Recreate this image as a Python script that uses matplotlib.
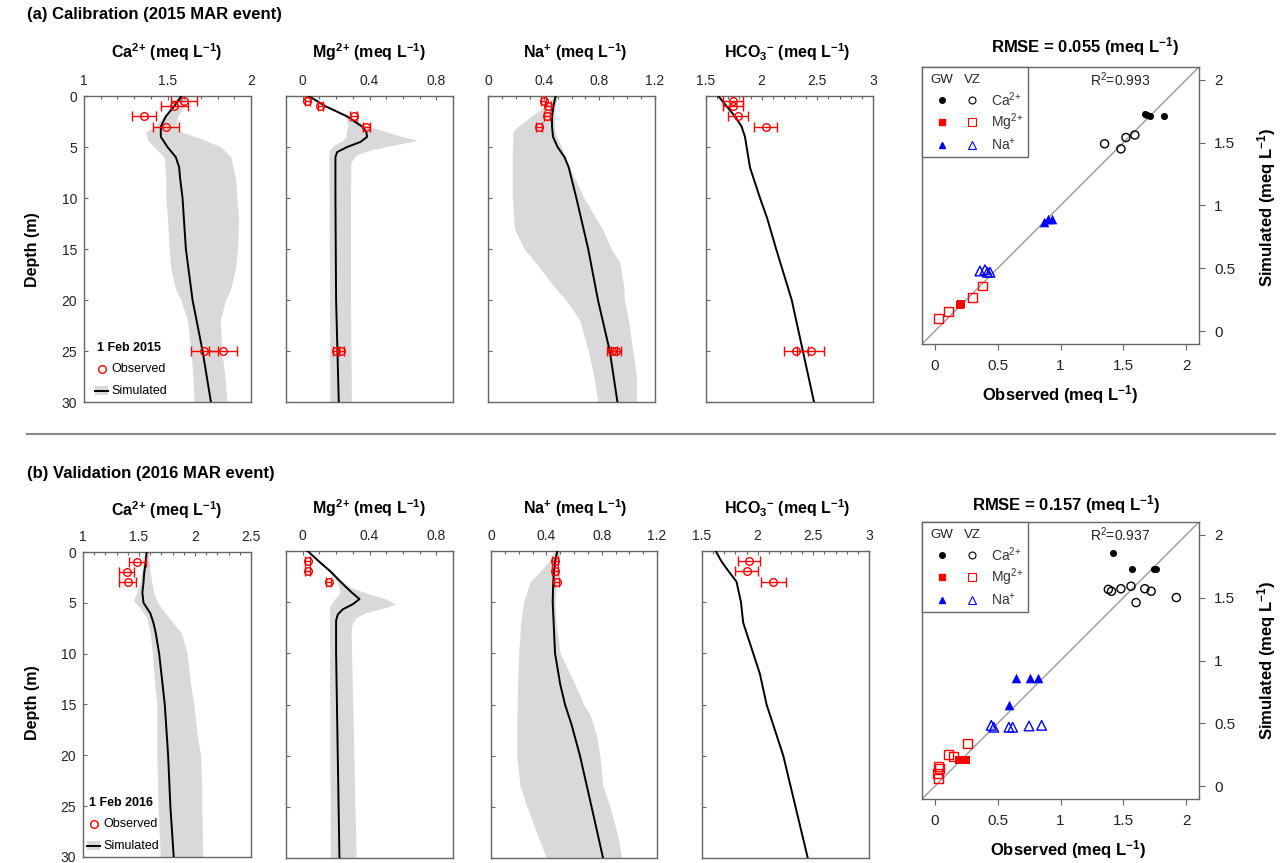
import matplotlib
matplotlib.use('Agg')
import matplotlib.pyplot as plt
from matplotlib.transforms import Affine2D
from matplotlib.lines import Line2D
from matplotlib.patches import Rectangle
from matplotlib.ticker import MultipleLocator

plt.rcParams['font.family'] = ['Liberation Sans', 'DejaVu Sans']
plt.rcParams['mathtext.default'] = 'regular'

# ---------------- data: (a) calibration 2015 ----------------
obs_depth_a = [0.5, 1, 2, 3, 25, 25]

ca_sim_d_a = [0, 1, 2, 3, 4, 5, 6, 7, 8, 10, 15, 20, 25, 30]
ca_sim_a = [1.584, 1.54, 1.49, 1.46, 1.46, 1.50, 1.55, 1.57, 1.575, 1.59, 1.61, 1.65, 1.71, 1.76]
ca_band_d_a = [0, 1, 2, 3, 3.5, 4.3, 5, 6, 8, 10, 12, 15, 17, 19, 20, 22, 25, 27, 30]
ca_lo_a = [1.56, 1.52, 1.48, 1.42, 1.37, 1.38, 1.42, 1.48, 1.49, 1.49, 1.50, 1.51, 1.52, 1.55, 1.58, 1.62, 1.64, 1.65, 1.66]
ca_hi_a = [1.62, 1.60, 1.56, 1.55, 1.58, 1.72, 1.82, 1.88, 1.906, 1.916, 1.926, 1.92, 1.906, 1.876, 1.847, 1.816, 1.826, 1.84, 1.857]
ca_obs_a = [1.598, 1.54, 1.36, 1.49, 1.72, 1.83]
ca_err_a = [0.08, 0.08, 0.07, 0.077, 0.08, 0.084]

mg_sim_d_a = [0, 1, 2, 3, 3.5, 4, 4.5, 5, 5.5, 6, 10, 20, 30]
mg_sim_a = [0.036, 0.136, 0.266, 0.356, 0.38, 0.386, 0.346, 0.266, 0.206, 0.196, 0.196, 0.20, 0.216]
mg_band_d_a = [0, 1, 2, 2.7, 3, 3.5, 4, 4.35, 4.8, 5.3, 5.8, 6.5, 10, 20, 30]
mg_lo_a = [0.026, 0.126, 0.25, 0.27, 0.27, 0.26, 0.26, 0.24, 0.19, 0.16, 0.156, 0.156, 0.158, 0.16, 0.162]
mg_hi_a = [0.046, 0.146, 0.28, 0.36, 0.40, 0.50, 0.60, 0.686, 0.55, 0.40, 0.32, 0.288, 0.286, 0.286, 0.292]
mg_obs_a = [0.026, 0.106, 0.306, 0.38, 0.20, 0.23]
mg_err_a = [0.015, 0.015, 0.02, 0.02, 0.02, 0.02]

na_sim_d_a = [0, 1, 2, 3, 4, 5, 6, 7, 10, 15, 20, 25, 30]
na_sim_a = [0.486, 0.47, 0.46, 0.46, 0.467, 0.50, 0.55, 0.58, 0.635, 0.72, 0.79, 0.875, 0.93]
na_band_d_a = [0, 1, 2, 3, 3.5, 5, 7, 10, 13, 15, 16.3, 18.6, 20, 22, 25, 27.4, 30]
na_lo_a = [0.47, 0.41, 0.31, 0.215, 0.18, 0.175, 0.175, 0.175, 0.19, 0.26, 0.34, 0.47, 0.56, 0.66, 0.72, 0.76, 0.79]
na_hi_a = [0.50, 0.485, 0.48, 0.48, 0.48, 0.527, 0.587, 0.69, 0.82, 0.886, 0.946, 0.975, 0.98, 1.01, 1.04, 1.066, 1.066]
na_obs_a = [0.40, 0.43, 0.424, 0.366, 0.893, 0.92]
na_err_a = [0.02, 0.02, 0.02, 0.02, 0.035, 0.035]

hco3_sim_d_a = [0, 1, 2, 3, 4, 5, 6, 7, 8, 10, 12, 15, 20, 25, 30]
hco3_sim_a = [1.61, 1.685, 1.76, 1.82, 1.85, 1.865, 1.88, 1.895, 1.925, 1.985, 2.05, 2.13, 2.27, 2.37, 2.47]
hco3_obs_a = [1.745, 1.745, 1.79, 2.035, 2.31, 2.44]
hco3_err_a = [0.09, 0.09, 0.09, 0.10, 0.105, 0.12]

# ---------------- data: (b) validation 2016 ----------------
obs_depth_b = [1, 2, 3]

ca_sim_d_b = [0, 1, 2, 3, 4, 5, 6, 7, 8, 10, 15, 20, 25, 30]
ca_sim_b = [1.568, 1.56, 1.547, 1.54, 1.53, 1.54, 1.60, 1.63, 1.65, 1.68, 1.73, 1.76, 1.78, 1.81]
ca_band_d_b = [0, 2, 3, 4, 4.8, 5.5, 6.5, 8, 10, 13, 15, 18, 20, 23, 25, 30]
ca_lo_b = [1.55, 1.52, 1.51, 1.48, 1.45, 1.51, 1.57, 1.60, 1.62, 1.64, 1.66, 1.66, 1.66, 1.665, 1.67, 1.69]
ca_hi_b = [1.585, 1.60, 1.615, 1.63, 1.66, 1.70, 1.77, 1.88, 1.93, 1.96, 1.99, 2.02, 2.05, 2.06, 2.06, 2.07]
ca_obs_b = [1.484, 1.39, 1.40]
ca_err_b = [0.075, 0.066, 0.075]

mg_sim_d_b = [0, 1, 2, 3, 4, 4.7, 5.2, 5.7, 6.2, 6.8, 10, 30]
mg_sim_b = [0.03, 0.096, 0.166, 0.226, 0.29, 0.34, 0.30, 0.24, 0.21, 0.20, 0.20, 0.22]
mg_band_d_b = [0, 1, 2, 3, 3.6, 4.2, 4.7, 5.2, 5.6, 6.0, 6.5, 7.1, 8, 30]
mg_lo_b = [0.026, 0.09, 0.16, 0.205, 0.22, 0.22, 0.19, 0.17, 0.16, 0.16, 0.16, 0.16, 0.16, 0.165]
mg_hi_b = [0.036, 0.105, 0.18, 0.24, 0.29, 0.40, 0.50, 0.556, 0.48, 0.38, 0.32, 0.296, 0.29, 0.32]
mg_obs_b = [0.03, 0.03, 0.156]
mg_err_b = [0.015, 0.015, 0.015]

na_sim_d_b = [0, 1, 3, 5, 10, 13, 15, 17, 20, 25, 30]
na_sim_b = [0.48, 0.463, 0.45, 0.446, 0.463, 0.50, 0.535, 0.583, 0.643, 0.727, 0.81]
na_band_d_b = [0, 1, 2, 3, 4, 5, 7, 10, 12, 14, 15, 16, 18, 20, 23, 25, 28, 30]
na_lo_b = [0.463, 0.415, 0.355, 0.283, 0.26, 0.235, 0.215, 0.2, 0.195, 0.19, 0.19, 0.188, 0.187, 0.187, 0.21, 0.26, 0.343, 0.40]
na_hi_b = [0.50, 0.49, 0.48, 0.475, 0.47, 0.465, 0.47, 0.50, 0.57, 0.64, 0.67, 0.715, 0.763, 0.787, 0.81, 0.86, 0.92, 0.943]
na_obs_b = [0.463, 0.463, 0.475]
na_err_b = [0.02, 0.02, 0.02]

hco3_sim_d_b = [0, 1, 2, 3, 4, 5, 7, 10, 12, 15, 20, 25, 30]
hco3_sim_b = [1.623, 1.674, 1.74, 1.81, 1.83, 1.85, 1.87, 1.96, 2.02, 2.08, 2.23, 2.34, 2.45]
hco3_obs_b = [1.92, 1.90, 2.14]
hco3_err_b = [0.10, 0.10, 0.11]

# ---------------- scatter data (observed, simulated) ----------------
gw_ca_a = ([1.67, 1.69, 1.71, 1.82], [1.73, 1.72, 1.71, 1.71])
vz_ca_a = ([1.35, 1.48, 1.52, 1.59], [1.49, 1.45, 1.54, 1.56])
gw_mg_a = ([0.20, 0.21], [0.21, 0.22])
vz_mg_a = ([0.03, 0.11, 0.30, 0.38], [0.10, 0.16, 0.27, 0.36])
gw_na_a = ([0.87, 0.90, 0.93], [0.87, 0.89, 0.89])
vz_na_a = ([0.36, 0.40, 0.42, 0.44], [0.48, 0.49, 0.47, 0.47])

gw_ca_b = ([1.42, 1.57, 1.74, 1.76], [1.85, 1.73, 1.73, 1.73])
vz_ca_b = ([1.38, 1.405, 1.48, 1.56, 1.60, 1.67, 1.72, 1.92], [1.565, 1.55, 1.57, 1.59, 1.46, 1.57, 1.55, 1.50])
gw_mg_b = ([0.19, 0.22, 0.25], [0.21, 0.21, 0.21])
vz_mg_b = ([0.02, 0.03, 0.03, 0.04, 0.11, 0.15, 0.26], [0.10, 0.16, 0.06, 0.14, 0.255, 0.235, 0.34])
gw_na_b = ([0.65, 0.76, 0.82, 0.59], [0.86, 0.86, 0.86, 0.65])
vz_na_b = ([0.45, 0.47, 0.59, 0.62, 0.75, 0.85], [0.485, 0.47, 0.47, 0.47, 0.48, 0.485])

W, H = 1281, 863
fig = plt.figure(figsize=(W / 100, H / 100), dpi=100)
pix = Affine2D().scale(1.0 / W, -1.0 / H).translate(0, 1) + fig.transFigure

FRAME = '#666666'
BAND = '#d9d9d9'


def rect(l, t, r, b):
    return [l / W, 1 - b / H, (r - l) / W, (b - t) / H]


def profile(box, xlim, xticks, title, tpos, sim_d, sim_v, obs_d, obs_v, obs_e,
            band=None, ylabels=False):
    ax = fig.add_axes(rect(*box))
    if band is not None:
        ax.fill_betweenx(band[0], band[1], band[2], color=BAND, lw=0, zorder=1)
    ax.plot(sim_v, sim_d, color='black', lw=1.4, zorder=3)
    ax.errorbar(obs_v, obs_d, xerr=obs_e, fmt='o', mfc='none', mec='red',
                ecolor='red', ms=5.5, mew=1, elinewidth=1, capsize=3.5,
                capthick=1, zorder=4)
    ax.set_xlim(xlim)
    ax.set_ylim(30, 0)
    ax.xaxis.tick_top()
    ax.set_xticks(xticks)
    ax.set_xticklabels(['%g' % t for t in xticks])
    ax.xaxis.set_minor_locator(MultipleLocator(0.1))
    ax.set_yticks(range(0, 31, 5))
    ax.tick_params(direction='in', length=3, width=0.8, colors=FRAME,
                   labelcolor='#222222', labelsize=10)
    ax.tick_params(axis='x', pad=6)
    ax.tick_params(axis='y', pad=5, labelleft=ylabels)
    ax.tick_params(which='minor', direction='in', length=2.5, width=0.8, colors=FRAME)
    for s in ax.spines.values():
        s.set_color(FRAME)
        s.set_linewidth(1)
    fig.text(tpos[0], tpos[1], title, transform=pix, ha='center', va='center',
             fontsize=11.5, fontweight='bold')
    return ax


def profile_legend(date, x0, y0):
    fig.text(x0, y0, date, transform=pix, ha='left', va='center', fontsize=9,
             fontweight='bold')
    fig.add_artist(Line2D([x0 + 5], [y0 + 21], transform=pix, marker='o',
                          ms=5.5, mfc='none', mec='red', mew=1, ls='none'))
    fig.text(x0 + 14, y0 + 21, 'Observed', transform=pix, ha='left',
             va='center', fontsize=9)
    fig.add_artist(Rectangle((x0 - 2, y0 + 38), 13, 9, transform=pix,
                             color=BAND, lw=0))
    fig.add_artist(Line2D([x0 - 2, x0 + 11], [y0 + 42.5, y0 + 42.5],
                          transform=pix, color='black', lw=1.4))
    fig.text(x0 + 14, y0 + 43, 'Simulated', transform=pix, ha='left',
             va='center', fontsize=9)


def scatter_panel(box, title, tpos, r2, obspos, simpos, gw, vz):
    ax = fig.add_axes(rect(*box))
    ax.plot([-0.1, 2.1], [-0.1, 2.1], color='#999999', lw=1, zorder=1)
    ax.scatter(*gw[0], s=26, c='black', marker='o', zorder=3, lw=0)
    ax.scatter(*vz[0], s=34, facecolors='none', edgecolors='black', lw=1, zorder=3)
    ax.scatter(*gw[1], s=40, c='red', marker='s', zorder=3, lw=0)
    ax.scatter(*vz[1], s=40, facecolors='none', edgecolors='red', marker='s', lw=1, zorder=3)
    ax.scatter(*gw[2], s=48, c='blue', marker='^', zorder=3, lw=0)
    ax.scatter(*vz[2], s=48, facecolors='none', edgecolors='blue', marker='^', lw=1, zorder=3)
    ax.set_xlim(-0.1, 2.1)
    ax.set_ylim(-0.1, 2.1)
    ticks = [0, 0.5, 1, 1.5, 2]
    ax.set_xticks(ticks)
    ax.set_xticklabels(['%g' % t for t in ticks])
    ax.set_yticks(ticks)
    ax.set_yticklabels(['%g' % t for t in ticks])
    ax.yaxis.tick_right()
    ax.tick_params(direction='out', length=4, width=0.8, colors=FRAME,
                   labelcolor='#222222', labelsize=11, pad=7)
    for s in ax.spines.values():
        s.set_color(FRAME)
        s.set_linewidth(1)
    ax.text(1.47, 2.0, r2, ha='center', va='center', fontsize=10, color='#222222')
    fig.text(tpos[0], tpos[1], title, transform=pix, ha='center', va='center',
             fontsize=12, fontweight='bold')
    fig.text(obspos[0], obspos[1], 'Observed (meq L$^{-1}$)', transform=pix,
             ha='center', va='center', fontsize=12, fontweight='bold')
    fig.text(simpos[0], simpos[1], 'Simulated (meq L$^{-1}$)', transform=pix,
             ha='center', va='center', fontsize=12, fontweight='bold', rotation=90)

    # legend box
    l, t = box[0], box[1]
    fig.add_artist(Rectangle((l, t), 106, 90, transform=pix, facecolor='white',
                             edgecolor=FRAME, lw=1))
    fig.text(l + 20, t + 13, 'GW', transform=pix, ha='center', va='center',
             fontsize=9.5, color='#222222')
    fig.text(l + 50, t + 13, 'VZ', transform=pix, ha='center', va='center',
             fontsize=9.5, color='#222222')
    rows = [('o', 'black', 'Ca$^{2}$$^{+}$', 33, 4, 5),
            ('s', 'red', 'Mg$^{2}$$^{+}$', 55, 5, 5.5),
            ('^', 'blue', 'Na$^{+}$', 78, 5, 5.5)]
    for m, c, lab, dy, ms_f, ms_o in rows:
        fig.add_artist(Line2D([l + 20], [t + dy], transform=pix, marker=m,
                              ms=ms_f, color=c, ls='none'))
        fig.add_artist(Line2D([l + 50], [t + dy], transform=pix, marker=m,
                              ms=ms_o, mfc='none', mec=c, mew=0.8, ls='none'))
        fig.text(l + 69, t + dy, lab, transform=pix, ha='left', va='center',
                 fontsize=10, color='#333333')
    return ax


ca_t = 'Ca$^{2}$$^{+}$ (meq L$^{-1}$)'
mg_t = 'Mg$^{2}$$^{+}$ (meq L$^{-1}$)'
na_t = 'Na$^{+}$ (meq L$^{-1}$)'
hco3_t = 'HCO$_{3}$$^{-}$ (meq L$^{-1}$)'

# ---- row a ----
profile((84, 96, 251, 402), (1, 2), [1, 1.5, 2], ca_t, (167, 52),
        ca_sim_d_a, ca_sim_a, obs_depth_a, ca_obs_a, ca_err_a,
        band=(ca_band_d_a, ca_lo_a, ca_hi_a), ylabels=True)
profile((286, 96, 453, 402), (-0.1, 0.9), [0, 0.4, 0.8], mg_t, (369, 52),
        mg_sim_d_a, mg_sim_a, obs_depth_a, mg_obs_a, mg_err_a,
        band=(mg_band_d_a, mg_lo_a, mg_hi_a))
profile((488, 96, 655, 402), (0, 1.2), [0, 0.4, 0.8, 1.2], na_t, (575, 52),
        na_sim_d_a, na_sim_a, obs_depth_a, na_obs_a, na_err_a,
        band=(na_band_d_a, na_lo_a, na_hi_a))
profile((706, 96, 873, 402), (1.5, 3), [1.5, 2, 2.5, 3], hco3_t, (787, 52),
        hco3_sim_d_a, hco3_sim_a, obs_depth_a, hco3_obs_a, hco3_err_a)
profile_legend('1 Feb 2015', 97, 348)
scatter_panel((922, 67, 1199, 344), 'RMSE = 0.055 (meq L$^{-1}$)', (1085, 47),
              'R$^{2}$=0.993', (1060, 395), (1267, 207),
              (gw_ca_a, gw_mg_a, gw_na_a), (vz_ca_a, vz_mg_a, vz_na_a))

# ---- row b ----
profile((83, 552, 251, 857), (1, 2.5), [1, 1.5, 2, 2.5], ca_t, (167, 510),
        ca_sim_d_b, ca_sim_b, obs_depth_b, ca_obs_b, ca_err_b,
        band=(ca_band_d_b, ca_lo_b, ca_hi_b), ylabels=True)
profile((286, 551, 453, 858), (-0.1, 0.9), [0, 0.4, 0.8], mg_t, (369, 508),
        mg_sim_d_b, mg_sim_b, obs_depth_b, mg_obs_b, mg_err_b,
        band=(mg_band_d_b, mg_lo_b, mg_hi_b))
profile((491, 551, 657, 858), (0, 1.2), [0, 0.4, 0.8, 1.2], na_t, (575, 508),
        na_sim_d_b, na_sim_b, obs_depth_b, na_obs_b, na_err_b,
        band=(na_band_d_b, na_lo_b, na_hi_b))
profile((702, 551, 869, 858), (1.5, 3), [1.5, 2, 2.5, 3], hco3_t, (787, 508),
        hco3_sim_d_b, hco3_sim_b, obs_depth_b, hco3_obs_b, hco3_err_b)
profile_legend('1 Feb 2016', 89, 803)
scatter_panel((922, 522, 1199, 799), 'RMSE = 0.157 (meq L$^{-1}$)', (1066, 505),
              'R$^{2}$=0.937', (1068, 850), (1267, 660),
              (gw_ca_b, gw_mg_b, gw_na_b), (vz_ca_b, vz_mg_b, vz_na_b))

# panel headings, depth labels and separator
fig.text(27, 15, '(a) Calibration (2015 MAR event)', transform=pix, ha='left',
         va='center', fontsize=12, fontweight='bold')
fig.text(27, 473, '(b) Validation (2016 MAR event)', transform=pix, ha='left',
         va='center', fontsize=12, fontweight='bold')
fig.text(33, 250, 'Depth (m)', transform=pix, ha='center', va='center',
         fontsize=11.5, fontweight='bold', rotation=90)
fig.text(33, 703, 'Depth (m)', transform=pix, ha='center', va='center',
         fontsize=11.5, fontweight='bold', rotation=90)
fig.add_artist(Line2D([27, 1275], [434, 434], transform=pix, color='#888888', lw=1.5))

fig.savefig('out.png', dpi=100)
